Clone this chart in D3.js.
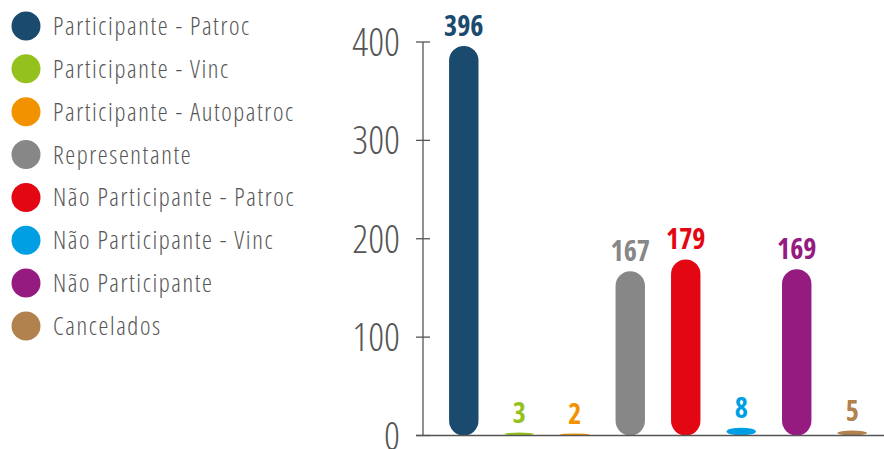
<!DOCTYPE html>
<html>
<head>
<meta charset="utf-8">
<script src="https://cdn.jsdelivr.net/npm/d3@7"></script>
<style>
  body { margin: 0; background: #fff; }
  svg { display: block; font-family: "Open Sans", sans-serif; font-stretch: 75%; }
  .legend-label { font-weight: 300; font-size: 25px; fill: #555; letter-spacing: 1.6px; }
  .tick-label { font-weight: 300; font-size: 39px; fill: #555; }
  .value-label { font-weight: 700; font-size: 28px; }
</style>
</head>
<body>
<svg id="chart" width="884" height="449"></svg>
<script>
const categories = ['Participante - Patroc', 'Participante - Vinc', 'Participante - Autopatroc', 'Representante',
    'Não Participante - Patroc', 'Não Participante - Vinc', 'Não Participante', 'Cancelados'];
const values = [396, 3, 2, 167, 179, 8, 169, 5];
const colours = ['#1a4a6e', '#95c11f', '#f39200', '#878787', '#e30613', '#009fe3', '#951b81', '#b1824e'];
const yTicks = [0, 100, 200, 300, 400];

const svg = d3.select('#chart');
const width = 884, height = 449;

// Legend
const legend = svg.append('g').attr('transform', 'translate(26,26)');
const item = legend.selectAll('g').data(categories).join('g')
    .attr('transform', (d, i) => `translate(0,${i * 42.85})`);
item.append('circle').attr('r', 14.5).attr('fill', (d, i) => colours[i]);
item.append('text').attr('class', 'legend-label')
    .attr('x', 27).attr('y', 9)
    .text(d => d);

// Scales
const axisX = 423;
const y = d3.scaleLinear().domain([0, 400]).range([435.5, 42]);
const x = d3.scaleBand().domain(categories).range([axisX, 893]).padding(0.47);

// Y axis
const axis = svg.append('g');
axis.append('line').attr('x1', axisX).attr('x2', axisX).attr('y1', y(400)).attr('y2', y(0))
    .attr('stroke', '#555').attr('stroke-width', 1.3);
axis.selectAll('line.tick').data(yTicks).join('line').attr('class', 'tick')
    .attr('x1', axisX - 7).attr('x2', axisX + 7)
    .attr('y1', d => y(d)).attr('y2', d => y(d))
    .attr('stroke', '#555').attr('stroke-width', 1.3);
axis.selectAll('text').data(yTicks).join('text').attr('class', 'tick-label')
    .attr('x', 400).attr('y', d => y(d)).attr('dy', '0.36em')
    .attr('text-anchor', 'end')
    .text(d => d);

// Bars
const bars = svg.append('g');
bars.selectAll('rect').data(values).join('rect')
    .attr('x', (d, i) => x(categories[i]))
    .attr('width', x.bandwidth())
    .attr('y', d => y(d))
    .attr('height', d => y(0) - y(d))
    .attr('rx', x.bandwidth() / 2)
    .attr('fill', (d, i) => colours[i]);

bars.selectAll('text').data(values).join('text').attr('class', 'value-label')
    .attr('x', (d, i) => x(categories[i]) + x.bandwidth() / 2)
    .attr('y', d => y(d) - 10)
    .attr('text-anchor', 'middle')
    .attr('fill', (d, i) => colours[i])
    .text(d => d);

// Baseline
svg.append('line').attr('x1', axisX - 7).attr('x2', width).attr('y1', y(0)).attr('y2', y(0))
    .attr('stroke', '#555').attr('stroke-width', 1.3);
</script>
</body>
</html>
